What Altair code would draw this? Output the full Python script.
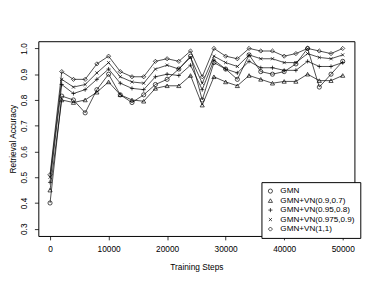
import altair as alt
import pandas as pd

steps = list(range(0, 50001, 2000))
series_names = ["GMN", "GMN+VN(0.9,0.7)", "GMN+VN(0.95,0.8)", "GMN+VN(0.975,0.9)", "GMN+VN(1,1)"]

gmn = [0.40, 0.815, 0.80, 0.75, 0.84, 0.90, 0.82, 0.79, 0.82, 0.86, 0.88, 0.92, 0.97, 0.80,
       0.945, 0.92, 0.88, 0.975, 0.91, 0.90, 0.91, 0.94, 1.00, 0.85, 0.90, 0.95]
vn_09_07 = [0.45, 0.80, 0.79, 0.80, 0.83, 0.87, 0.82, 0.80, 0.795, 0.845, 0.855, 0.855, 0.895, 0.78,
            0.89, 0.87, 0.855, 0.895, 0.88, 0.865, 0.872, 0.872, 0.90, 0.875, 0.875, 0.895]
vn_095_08 = [0.48, 0.86, 0.825, 0.84, 0.88, 0.92, 0.865, 0.845, 0.84, 0.89, 0.90, 0.895, 0.935, 0.84,
             0.955, 0.92, 0.905, 0.95, 0.925, 0.925, 0.915, 0.915, 0.95, 0.93, 0.93, 0.945]
vn_0975_09 = [0.50, 0.88, 0.85, 0.86, 0.905, 0.945, 0.89, 0.87, 0.865, 0.92, 0.935, 0.92, 0.965, 0.865,
              0.97, 0.945, 0.93, 0.975, 0.96, 0.96, 0.945, 0.945, 0.98, 0.965, 0.96, 0.975]
vn_1_1 = [0.51, 0.91, 0.88, 0.88, 0.94, 0.97, 0.91, 0.89, 0.89, 0.95, 0.96, 0.95, 0.99, 0.89,
          1.00, 0.97, 0.96, 1.00, 0.99, 0.99, 0.97, 0.98, 1.00, 0.99, 0.98, 1.00]

x_ticks = [0, 10000, 20000, 30000, 40000, 50000]
y_ticks = [0.3, 0.4, 0.5, 0.6, 0.7, 0.8, 0.9, 1.0]

all_vals = [gmn, vn_09_07, vn_095_08, vn_0975_09, vn_1_1]
rows = []
for name, vals in zip(series_names, all_vals):
    for s, v in zip(steps, vals):
        rows.append({"step": s, "acc": v, "series": name})
df = pd.DataFrame(rows)

FONT = "Liberation Sans"
shapes = ["circle", "triangle-up", "M-1,0L1,0M0,-1L0,1", "M-0.75,-0.75L0.75,0.75M-0.75,0.75L0.75,-0.75", "diamond"]

x = alt.X("step:Q", scale=alt.Scale(domain=[-2000, 52000], nice=False, zero=False),
          axis=alt.Axis(values=x_ticks, format="d", title="Training Steps", grid=False,
                        domain=False, tickSize=4, tickColor="black", labelPadding=5,
                        titlePadding=10))
y = alt.Y("acc:Q", scale=alt.Scale(domain=[0.272, 1.028], nice=False, zero=False),
          axis=alt.Axis(values=y_ticks, format=".1f", title="Retrieval Accuracy", grid=False,
                        domain=False, tickSize=4, tickColor="black", labelAngle=270,
                        labelAlign="center", labelBaseline="bottom", labelPadding=6,
                        titlePadding=2))

lines = alt.Chart(df).mark_line(color="black", strokeWidth=0.7).encode(
    x=x, y=y, detail="series:N")

points = alt.Chart(df).mark_point(filled=False, color="black", size=18, strokeWidth=0.7, opacity=1).encode(
    x=x, y=y,
    shape=alt.Shape("series:N", sort=series_names,
                    scale=alt.Scale(domain=series_names, range=shapes),
                    legend=alt.Legend(title=None, orient="none", legendX=228, legendY=144,
                                      strokeColor="black", fillColor="white", padding=5,
                                      labelFont=FONT, labelFontSize=8.3, labelColor="black",
                                      symbolSize=18, symbolStrokeWidth=0.7, symbolStrokeColor="black",
                                      symbolFillColor="transparent", symbolType="circle",
                                      rowPadding=0.7, labelOffset=6, cornerRadius=0)))

chart = alt.layer(lines, points).properties(
    width=323, height=199,
    autosize=alt.AutoSizeParams(type="none"),
    padding={"left": 31, "top": 31, "right": 20, "bottom": 40},
).configure_view(stroke="black", strokeWidth=1).configure_axis(
    labelFont=FONT, labelFontSize=8.5, labelColor="black",
    titleFont=FONT, titleFontSize=8.5, titleColor="black", titleFontWeight="normal",
    tickWidth=0.8,
)

chart.save("out.html", embed_options={"renderer": "svg", "actions": False})
